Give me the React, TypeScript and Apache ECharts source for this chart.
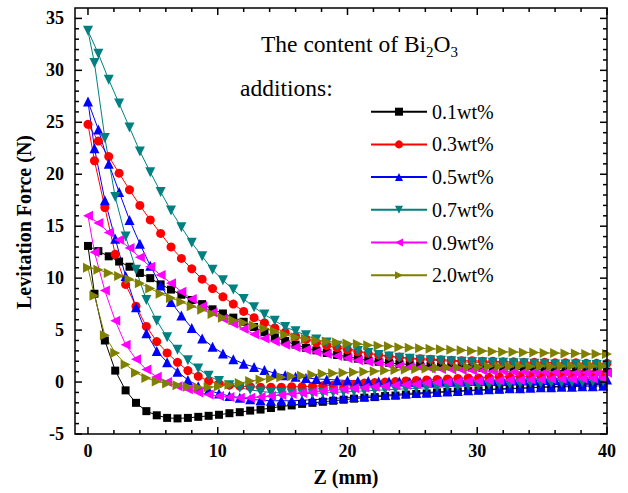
import React, { useEffect, useRef } from 'react';
import * as echarts from 'echarts';

// Z positions (mm): approach branch and withdrawal branch
const zApproach = [0, 0.8, 1.6, 2.4, 3.2, 4, 4.8, 5.6, 6.4, 7.2, 8, 8.8, 9.6, 10.4, 11.2, 12, 12.8, 13.6, 14.4, 15.2, 16, 16.8, 17.6, 18.4, 19.2, 20, 20.8, 21.6, 22.4, 23.2, 24, 24.8, 25.6, 26.4, 27.2, 28, 28.8, 29.6, 30.4, 31.2, 32, 32.8, 33.6, 34.4, 35.2, 36, 36.8, 37.6, 38.4, 39.2, 40];
const zWithdraw = [0.5, 1.3, 2.1, 2.9, 3.7, 4.5, 5.3, 6.1, 6.9, 7.7, 8.5, 9.3, 10.1, 10.9, 11.7, 12.5, 13.3, 14.1, 14.9, 15.7, 16.5, 17.3, 18.1, 18.9, 19.7, 20.5, 21.3, 22.1, 22.9, 23.7, 24.5, 25.3, 26.1, 26.9, 27.7, 28.5, 29.3, 30.1, 30.9, 31.7, 32.5, 33.3, 34.1, 34.9, 35.7, 36.5, 37.3, 38.1, 38.9, 39.7];

const seriesNames = ['0.1wt%', '0.3wt%', '0.5wt%', '0.7wt%', '0.9wt%', '2.0wt%'];

const up01 = [13.1, 12.6, 12.1, 11.6, 11.1, 10.5, 10.0, 9.4, 8.9, 8.4, 7.9, 7.5, 7.0, 6.6, 6.2, 5.8, 5.3, 4.8, 4.3, 3.95, 3.6, 3.3, 3.05, 2.8, 2.6, 2.45, 2.25, 2.1, 1.95, 1.85, 1.75, 1.7, 1.6, 1.55, 1.5, 1.5, 1.45, 1.4, 1.35, 1.3, 1.3, 1.25, 1.2, 1.2, 1.15, 1.15, 1.1, 1.1, 1.05, 1.05, 1.0];
const down01 = [8.5, 4.0, 1.1, -0.8, -2.0, -2.8, -3.2, -3.45, -3.5, -3.45, -3.35, -3.25, -3.15, -3.0, -2.9, -2.75, -2.65, -2.5, -2.35, -2.25, -2.1, -2.0, -1.9, -1.8, -1.7, -1.6, -1.5, -1.45, -1.35, -1.3, -1.2, -1.15, -1.1, -1.0, -0.95, -0.9, -0.85, -0.8, -0.75, -0.7, -0.65, -0.6, -0.55, -0.5, -0.45, -0.4, -0.35, -0.3, -0.25, -0.2];

const up03 = [24.8, 23.2, 21.7, 20.1, 18.5, 17.0, 15.6, 14.3, 13.0, 11.9, 10.9, 9.9, 9.0, 8.2, 7.5, 6.8, 6.2, 5.7, 5.2, 4.8, 4.4, 4.1, 3.8, 3.5, 3.3, 3.1, 2.9, 2.75, 2.6, 2.5, 2.4, 2.3, 2.25, 2.2, 2.15, 2.1, 2.05, 2.05, 2.0, 2.0, 1.95, 1.95, 1.9, 1.9, 1.9, 1.85, 1.85, 1.85, 1.8, 1.8, 1.8];
const down03 = [21.3, 16.8, 12.3, 9.4, 7.3, 5.35, 3.9, 2.8, 1.9, 1.1, 0.55, 0.1, -0.15, -0.3, -0.4, -0.45, -0.5, -0.5, -0.5, -0.45, -0.45, -0.4, -0.35, -0.3, -0.25, -0.2, -0.1, -0.05, 0.0, 0.05, 0.1, 0.15, 0.2, 0.25, 0.3, 0.35, 0.4, 0.4, 0.45, 0.5, 0.5, 0.55, 0.55, 0.6, 0.6, 0.65, 0.65, 0.7, 0.7, 0.7];

const up05 = [27.0, 24.3, 21.0, 18.3, 15.6, 13.3, 11.2, 9.3, 7.7, 6.4, 5.2, 4.2, 3.4, 2.75, 2.2, 1.75, 1.45, 1.15, 0.85, 0.65, 0.5, 0.4, 0.3, 0.25, 0.2, 0.15, 0.1, 0.1, 0.05, 0.05, 0.05, 0.0, 0.0, 0.0, 0.05, 0.05, 0.05, 0.1, 0.1, 0.1, 0.1, 0.15, 0.15, 0.15, 0.2, 0.2, 0.2, 0.2, 0.25, 0.25, 0.25];
const down05 = [22.5, 17.5, 13.8, 10.2, 7.2, 4.7, 3.0, 1.9, 1.0, 0.2, -0.4, -0.8, -1.1, -1.35, -1.5, -1.65, -1.75, -1.8, -1.8, -1.8, -1.75, -1.7, -1.65, -1.6, -1.5, -1.45, -1.4, -1.3, -1.25, -1.2, -1.1, -1.05, -1.0, -0.95, -0.9, -0.85, -0.8, -0.75, -0.7, -0.65, -0.6, -0.6, -0.55, -0.5, -0.5, -0.45, -0.45, -0.4, -0.4, -0.35];

const up07 = [33.8, 31.6, 29.1, 26.8, 24.5, 22.2, 20.2, 18.3, 16.5, 14.9, 13.4, 12.1, 10.8, 9.8, 8.9, 8.0, 7.2, 6.5, 5.9, 5.3, 4.9, 4.5, 4.1, 3.8, 3.5, 3.25, 3.0, 2.8, 2.6, 2.45, 2.35, 2.25, 2.15, 2.1, 2.05, 2.0, 1.95, 1.9, 1.9, 1.85, 1.85, 1.8, 1.8, 1.75, 1.75, 1.7, 1.7, 1.7, 1.65, 1.65, 1.6];
const down07 = [30.7, 23.5, 17.8, 14.0, 10.8, 7.9, 5.9, 4.3, 3.1, 2.1, 1.3, 0.6, 0.1, -0.3, -0.55, -0.75, -0.9, -1.0, -1.05, -1.1, -1.1, -1.1, -1.05, -1.0, -0.95, -0.9, -0.85, -0.8, -0.75, -0.7, -0.65, -0.6, -0.55, -0.5, -0.45, -0.4, -0.35, -0.3, -0.25, -0.2, -0.2, -0.15, -0.1, -0.1, -0.05, -0.05, 0.0, 0.0, 0.05, 0.05];

const up09 = [16.0, 15.3, 14.4, 13.7, 12.9, 12.0, 11.1, 10.3, 9.5, 8.7, 8.0, 7.3, 6.7, 6.1, 5.6, 5.1, 4.6, 4.2, 3.9, 3.6, 3.35, 3.1, 2.9, 2.7, 2.5, 2.3, 2.1, 1.95, 1.8, 1.65, 1.55, 1.45, 1.4, 1.3, 1.25, 1.2, 1.15, 1.1, 1.1, 1.05, 1.05, 1.0, 1.0, 1.0, 0.95, 0.95, 0.95, 0.9, 0.9, 0.9, 0.9];
const down09 = [12.5, 8.8, 5.9, 3.6, 2.2, 1.2, 0.5, 0.0, -0.4, -0.7, -1.0, -1.2, -1.35, -1.45, -1.5, -1.5, -1.45, -1.35, -1.25, -1.15, -1.05, -0.95, -0.85, -0.8, -0.7, -0.6, -0.55, -0.45, -0.4, -0.3, -0.25, -0.2, -0.1, -0.05, 0.0, 0.05, 0.1, 0.1, 0.15, 0.15, 0.2, 0.2, 0.25, 0.25, 0.3, 0.3, 0.3, 0.35, 0.35, 0.35];

const up20 = [11.0, 10.8, 10.5, 10.2, 9.9, 9.5, 9.0, 8.5, 8.1, 7.7, 7.3, 6.95, 6.55, 6.2, 5.95, 5.7, 5.45, 5.15, 4.9, 4.55, 4.3, 4.15, 4.0, 3.9, 3.8, 3.7, 3.65, 3.55, 3.5, 3.45, 3.35, 3.3, 3.25, 3.2, 3.15, 3.1, 3.05, 3.0, 3.0, 2.95, 2.9, 2.9, 2.85, 2.85, 2.8, 2.8, 2.75, 2.75, 2.7, 2.7, 2.7];
const down20 = [8.3, 4.5, 2.8, 1.7, 0.9, 0.4, 0.05, -0.15, -0.3, -0.45, -0.5, -0.5, -0.4, -0.25, -0.1, 0.1, 0.25, 0.35, 0.45, 0.55, 0.6, 0.7, 0.8, 0.85, 0.9, 0.95, 1.0, 1.05, 1.1, 1.15, 1.2, 1.25, 1.3, 1.35, 1.4, 1.4, 1.45, 1.45, 1.5, 1.5, 1.5, 1.55, 1.5, 1.55, 1.5, 1.55, 1.55, 1.5, 1.55, 1.55];

// tick positions (axis values)
const xMajorTicks = [0, 10, 20, 30, 40];
const xMinorTicks = [2, 4, 6, 8, 12, 14, 16, 18, 22, 24, 26, 28, 32, 34, 36, 38];
const yMajorTicks = [-5, 0, 5, 10, 15, 20, 25, 30, 35];
const yMinorTicks = [-4, -3, -2, -1, 1, 2, 3, 4, 6, 7, 8, 9, 11, 12, 13, 14, 16, 17, 18, 19, 21, 22, 23, 24, 26, 27, 28, 29, 31, 32, 33, 34];

const colors = ['#000000', '#ff0000', '#0000ff', '#008080', '#ff00ff', '#808000'];
const symbols = ['rect', 'circle', 'triangle', 'triangle', 'triangle', 'triangle'];
const rotations = [0, 0, 0, 180, 90, -90];
const sizes = [8, 9, 10, 10, 10, 10];

const ups = [up01, up03, up05, up07, up09, up20];
const downs = [down01, down03, down05, down07, down09, down20];

const X_MIN = -1, X_MAX = 40, Y_MIN = -5, Y_MAX = 36;
const W = 628, H = 493, G_LEFT = 75, G_RIGHT = 21, G_TOP = 8, G_BOTTOM = 59;
const SERIF = '"Liberation Serif", "Times New Roman", Times, serif';

function loop(up: number[], down: number[]) {
  const a = up.map((v, i) => [zApproach[i], v]).reverse();
  const b = down.map((v, i) => [zWithdraw[i], v]);
  return a.concat(b);
}

function measure(text: string, font: string) {
  try {
    const c = document.createElement('canvas').getContext('2d');
    if (!c) return text.length * 10;
    c.font = font;
    return c.measureText(text).width;
  } catch (e) {
    return text.length * 10;
  }
}

export default function App() {
  const ref = useRef<HTMLDivElement>(null);
  useEffect(() => {
    if (!ref.current) return;
    const chart = echarts.init(ref.current, undefined, { renderer: 'svg' });

    const mainFont = `23.5px ${SERIF}`;
    const subFont = `15px ${SERIF}`;
    const t1 = 'The content of Bi';
    const x0 = 261;
    const w1 = measure(t1, mainFont);
    const w2 = measure('2', subFont);
    const w3 = measure('O', mainFont);

    const labelStyle = { fontFamily: SERIF, fontWeight: 'bold', fontSize: 18, color: '#000' };

    // linear mapping of the grid (same extent as the axes) used for the frame ticks
    const plotW = W - G_LEFT - G_RIGHT;
    const plotH = H - G_TOP - G_BOTTOM;
    const px = (v: number) => G_LEFT + ((v - X_MIN) / (X_MAX - X_MIN)) * plotW;
    const py = (v: number) => G_TOP + ((Y_MAX - v) / (Y_MAX - Y_MIN)) * plotH;
    const bottom = G_TOP + plotH;
    const right = G_LEFT + plotW;
    const MAJ = 7, MIN = 4;
    const tickStyle = { stroke: '#000000', lineWidth: 1.5, fill: 'none' };
    const ticks: any[] = [];
    const addX = (v: number, len: number) => {
      const x = px(v);
      ticks.push({ type: 'polyline', silent: true, z: 100, shape: { points: [[x, bottom], [x, bottom - len]] }, style: tickStyle });
      ticks.push({ type: 'polyline', silent: true, z: 100, shape: { points: [[x, G_TOP], [x, G_TOP + len]] }, style: tickStyle });
    };
    const addY = (v: number, len: number) => {
      const y = py(v);
      ticks.push({ type: 'polyline', silent: true, z: 100, shape: { points: [[G_LEFT, y], [G_LEFT + len, y]] }, style: tickStyle });
      ticks.push({ type: 'polyline', silent: true, z: 100, shape: { points: [[right, y], [right - len, y]] }, style: tickStyle });
    };
    xMajorTicks.forEach((v) => addX(v, MAJ));
    xMinorTicks.forEach((v) => addX(v, MIN));
    yMajorTicks.forEach((v) => addY(v, MAJ));
    yMinorTicks.forEach((v) => addY(v, MIN));

    const option: any = {
      animation: false,
      backgroundColor: '#ffffff',
      grid: { left: G_LEFT, right: G_RIGHT, top: G_TOP, bottom: G_BOTTOM, show: false },
      xAxis: {
        type: 'value', min: X_MIN, max: X_MAX, minInterval: 10, maxInterval: 10, splitNumber: 4,
        axisLine: { show: false, onZero: false }, axisTick: { show: false }, minorTick: { show: false }, splitLine: { show: false },
        axisLabel: { ...labelStyle, margin: 8, formatter: (v: number) => (xMajorTicks.includes(v) ? String(v) : '') },
      },
      yAxis: {
        type: 'value', min: Y_MIN, max: Y_MAX, interval: 5,
        axisLine: { show: false, onZero: false }, axisTick: { show: false }, minorTick: { show: false }, splitLine: { show: false },
        axisLabel: { ...labelStyle, margin: 11, formatter: (v: number) => (yMajorTicks.includes(v) ? String(v) : '') },
      },
      legend: {
        orient: 'vertical', left: 370, top: 101.7, padding: 0,
        itemWidth: 56, itemHeight: 10, itemGap: 12.7,
        selectedMode: false,
        textStyle: { fontFamily: SERIF, fontSize: 20, color: '#000', lineHeight: 20 },
        data: seriesNames,
      },
      series: seriesNames.map((name, i) => ({
        type: 'line', name,
        data: loop(ups[i], downs[i]),
        symbol: symbols[i], symbolSize: sizes[i], symbolRotate: rotations[i],
        itemStyle: { color: colors[i] },
        lineStyle: { color: colors[i], width: 1 },
        silent: true,
        emphasis: { disabled: true },
      })),
      graphic: [
        { type: 'rect', silent: true, z: 100, shape: { x: G_LEFT, y: G_TOP, width: plotW, height: plotH }, style: { fill: 'none', stroke: '#000000', lineWidth: 1.5 } },
        ...ticks,
        { type: 'text', x: x0, y: 43.9, silent: true, style: { text: t1, font: mainFont, fill: '#000', align: 'left', verticalAlign: 'middle' } },
        { type: 'text', x: x0 + w1, y: 52.2, silent: true, style: { text: '2', font: subFont, fill: '#000', align: 'left', verticalAlign: 'middle' } },
        { type: 'text', x: x0 + w1 + w2, y: 43.9, silent: true, style: { text: 'O', font: mainFont, fill: '#000', align: 'left', verticalAlign: 'middle' } },
        { type: 'text', x: x0 + w1 + w2 + w3, y: 52.2, silent: true, style: { text: '3', font: subFont, fill: '#000', align: 'left', verticalAlign: 'middle' } },
        { type: 'text', x: 240, y: 88.2, silent: true, style: { text: 'additions:', font: mainFont, fill: '#000', align: 'left', verticalAlign: 'middle' } },
        { type: 'text', x: 24, y: 222, rotation: Math.PI / 2, silent: true, style: { text: 'Levitation Force (N)', font: `bold 20px ${SERIF}`, fill: '#000', align: 'center', verticalAlign: 'middle' } },
        { type: 'text', x: 346, y: 477, silent: true, style: { text: 'Z (mm)', font: `bold 20px ${SERIF}`, fill: '#000', align: 'center', verticalAlign: 'middle' } },
      ],
    };
    chart.setOption(option);
    return () => chart.dispose();
  }, []);
  return <div ref={ref} style={{ position: 'fixed', left: 0, top: 0, width: W, height: H, background: '#fff' }} />;
}
